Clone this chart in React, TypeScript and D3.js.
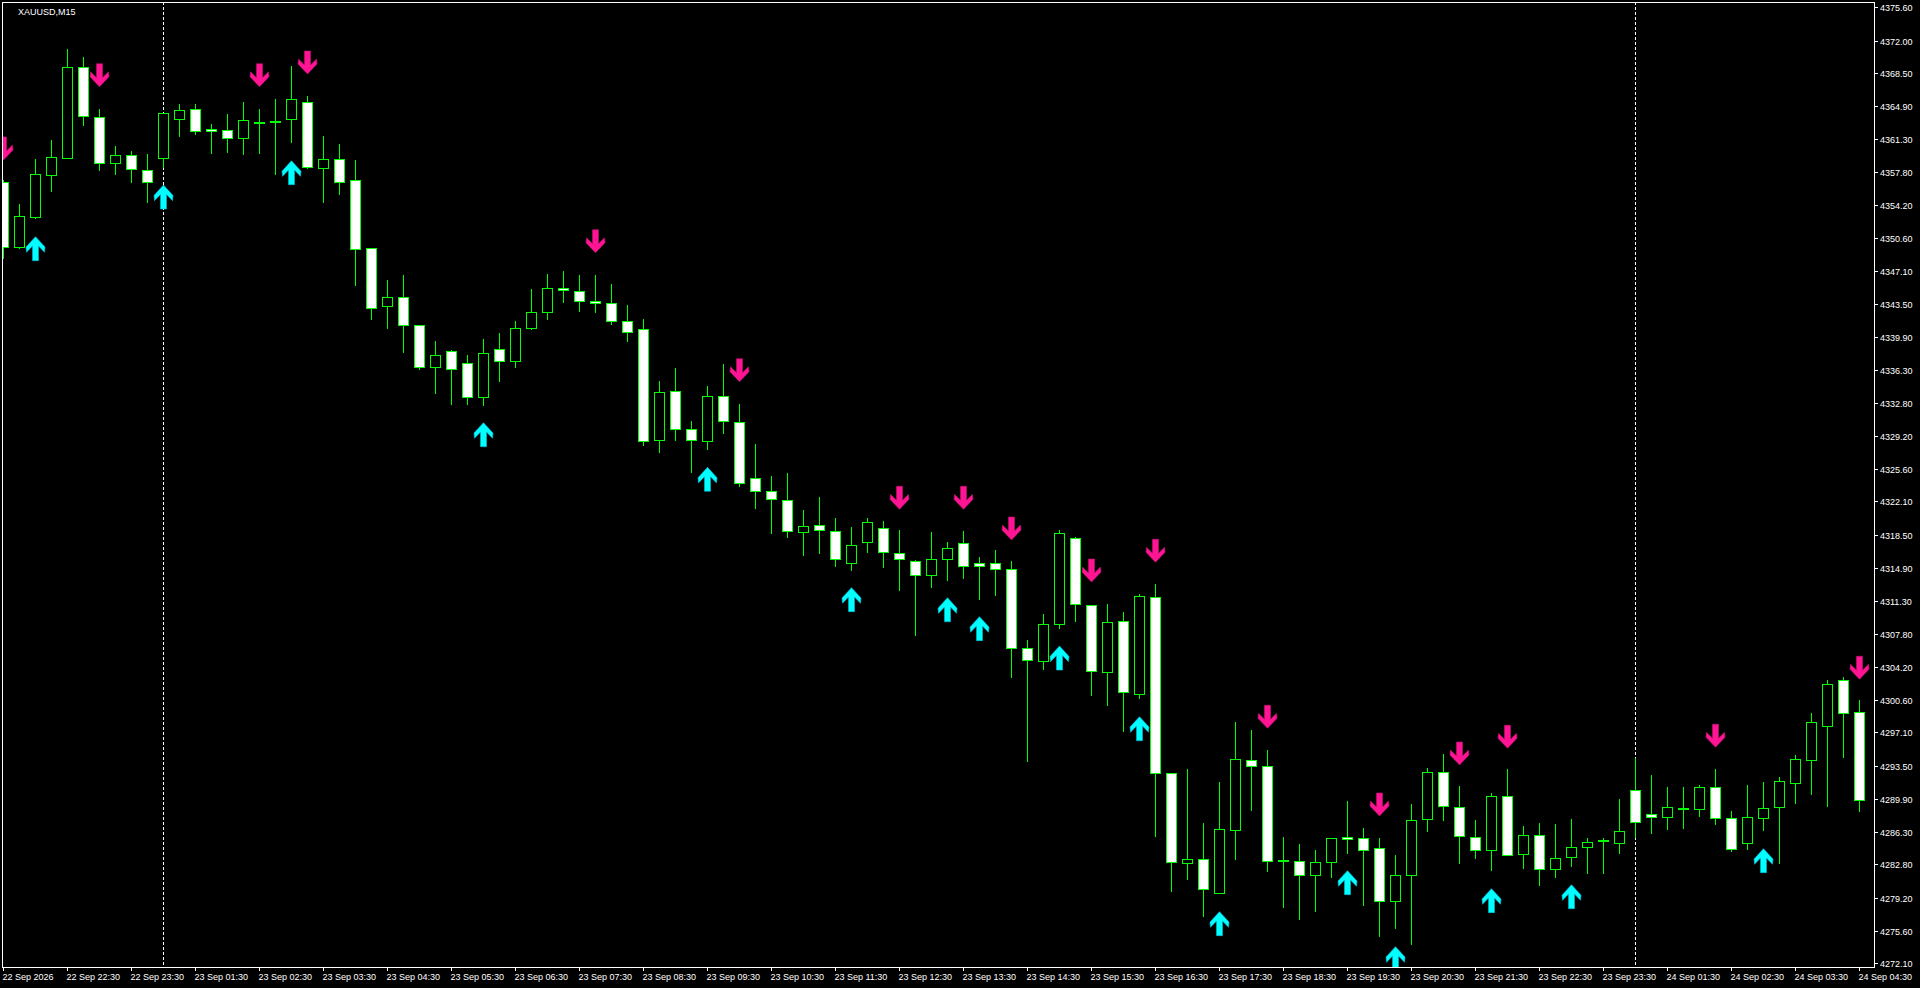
import React from 'react';
import * as d3 from 'd3';

const symbolLabel = 'XAUUSD,M15';

const opens = [
  4356.65, 4349.62, 4352.93, 4357.48, 4359.25, 4369.10, 4363.69, 4358.71, 4359.58, 4357.95,
  4359.25, 4363.54, 4364.56, 4362.39, 4362.28, 4361.42, 4363.11, 4363.22, 4363.47, 4365.32,
  4358.17, 4359.14, 4356.87, 4349.51, 4343.29, 4344.20, 4341.17, 4336.63, 4338.36, 4337.06,
  4333.38, 4338.58, 4337.34, 4340.91, 4342.58, 4345.18, 4344.85, 4343.77, 4343.55, 4341.61,
  4340.74, 4328.72, 4334.03, 4329.91, 4328.62, 4333.49, 4330.67, 4324.61, 4323.20, 4322.23,
  4318.76, 4319.52, 4318.87, 4315.41, 4317.68, 4319.20, 4316.49, 4315.62, 4314.11, 4315.84,
  4317.57, 4315.41, 4315.41, 4314.76, 4306.21, 4304.80, 4308.80, 4318.11, 4310.93, 4303.61,
  4309.13, 4301.23, 4311.73, 4292.67, 4282.93, 4283.36, 4279.75, 4286.50, 4294.08, 4293.43,
  4283.21, 4283.21, 4281.63, 4283.04, 4285.74, 4285.64, 4284.55, 4278.82, 4281.63, 4287.69,
  4292.78, 4288.99, 4285.74, 4284.34, 4290.18, 4283.90, 4285.96, 4282.28, 4283.58, 4284.66,
  4285.31, 4285.09, 4290.83, 4288.27, 4287.97, 4288.81, 4288.78, 4291.19, 4287.80, 4285.09,
  4287.80, 4288.99, 4291.59, 4294.08, 4297.76, 4302.74, 4299.28,
];

const highs = [
  4356.90, 4354.31, 4359.18, 4361.23, 4371.09, 4370.22, 4364.59, 4360.58, 4360.04, 4359.72,
  4364.19, 4365.13, 4365.13, 4362.97, 4364.05, 4365.35, 4364.59, 4365.67, 4369.25, 4366.00,
  4361.63, 4360.80, 4359.07, 4349.54, 4346.08, 4346.62, 4341.17, 4339.47, 4338.47, 4337.96,
  4339.69, 4340.34, 4341.64, 4345.10, 4346.73, 4347.05, 4346.62, 4346.62, 4345.64, 4343.37,
  4341.85, 4335.14, 4336.55, 4330.81, 4334.60, 4336.98, 4332.65, 4328.32, 4324.86, 4325.18,
  4321.18, 4322.59, 4320.31, 4319.34, 4320.31, 4319.99, 4319.01, 4315.76, 4318.80, 4317.71,
  4318.90, 4316.09, 4316.81, 4315.62, 4307.07, 4309.89, 4318.98, 4318.22, 4310.93, 4310.97,
  4310.10, 4312.05, 4313.13, 4292.67, 4293.14, 4287.29, 4291.73, 4298.23, 4297.36, 4295.20,
  4285.78, 4285.02, 4284.37, 4285.64, 4289.67, 4286.75, 4285.67, 4283.83, 4289.35, 4293.21,
  4294.76, 4291.30, 4287.62, 4290.54, 4293.14, 4286.97, 4287.29, 4287.18, 4287.73, 4285.64,
  4285.67, 4289.86, 4294.30, 4292.49, 4291.19, 4291.19, 4291.41, 4293.14, 4288.56, 4291.41,
  4291.73, 4292.27, 4294.62, 4299.17, 4302.74, 4303.07, 4300.58,
];

const lows = [
  4348.43, 4349.54, 4352.82, 4355.75, 4359.25, 4362.89, 4358.02, 4357.59, 4356.72, 4354.55,
  4358.34, 4361.70, 4361.92, 4359.86, 4359.97, 4359.75, 4359.86, 4357.59, 4361.05, 4358.20,
  4354.55, 4355.39, 4345.54, 4341.85, 4340.91, 4338.31, 4336.47, 4333.88, 4332.69, 4332.69,
  4332.58, 4335.14, 4336.69, 4340.81, 4341.85, 4343.73, 4342.75, 4342.65, 4341.28, 4339.51,
  4328.25, 4327.49, 4328.72, 4325.32, 4327.81, 4329.48, 4323.81, 4321.43, 4318.72, 4318.29,
  4316.34, 4316.55, 4315.15, 4314.71, 4316.66, 4315.04, 4312.55, 4307.68, 4312.87, 4313.63,
  4313.85, 4311.57, 4312.01, 4303.13, 4294.04, 4304.00, 4308.44, 4309.19, 4301.18, 4300.10,
  4297.28, 4300.79, 4285.92, 4279.96, 4281.26, 4277.26, 4279.75, 4283.43, 4288.73, 4282.13,
  4278.23, 4276.93, 4277.80, 4281.48, 4284.08, 4278.45, 4275.09, 4275.96, 4274.23, 4286.46,
  4287.58, 4282.99, 4283.54, 4282.24, 4283.80, 4282.45, 4280.61, 4281.48, 4282.67, 4281.91,
  4281.85, 4284.08, 4285.81, 4286.18, 4286.67, 4286.78, 4288.08, 4287.22, 4284.29, 4284.51,
  4286.56, 4282.99, 4289.49, 4290.46, 4289.16, 4294.47, 4288.62,
];

const closes = [
  4349.62, 4352.97, 4357.52, 4359.36, 4369.10, 4363.80, 4358.71, 4359.58, 4358.06, 4356.65,
  4364.12, 4364.45, 4362.18, 4362.18, 4361.42, 4363.37, 4363.11, 4363.22, 4365.64, 4358.28,
  4359.14, 4356.72, 4349.40, 4343.01, 4344.20, 4341.17, 4336.63, 4337.93, 4336.47, 4333.38,
  4338.14, 4337.34, 4340.85, 4342.58, 4345.18, 4344.96, 4343.77, 4343.55, 4341.61, 4340.42,
  4328.62, 4333.92, 4329.91, 4328.72, 4333.49, 4330.78, 4324.07, 4323.20, 4322.34, 4318.87,
  4319.41, 4318.98, 4315.84, 4317.36, 4319.85, 4316.60, 4315.84, 4314.11, 4315.84, 4317.03,
  4315.08, 4315.08, 4314.76, 4306.21, 4304.91, 4308.87, 4318.66, 4310.97, 4303.72, 4309.02,
  4301.44, 4311.83, 4292.67, 4283.04, 4283.36, 4280.18, 4286.61, 4294.19, 4293.43, 4283.15,
  4283.21, 4281.63, 4283.04, 4285.64, 4285.53, 4284.34, 4278.88, 4281.63, 4287.58, 4292.78,
  4289.10, 4285.85, 4284.34, 4290.18, 4283.80, 4285.96, 4282.28, 4283.47, 4284.66, 4285.20,
  4285.31, 4286.39, 4287.43, 4287.97, 4288.99, 4288.81, 4291.19, 4287.80, 4284.51, 4287.91,
  4288.88, 4291.81, 4294.19, 4298.19, 4302.31, 4299.17, 4289.75,
];

// sell (down, pink) arrow signals: bar index and arrow tip price
const sellBars = [0, 6, 16, 19, 37, 46, 56, 60, 63, 68, 72, 79, 86, 91, 94, 107, 116];
const sellPrices = [
  4359.07, 4367.00, 4367.00, 4368.38, 4349.03, 4335.07, 4321.25, 4321.25, 4317.93,
  4313.38, 4315.52, 4297.54, 4288.05, 4293.57, 4295.38, 4295.49, 4302.85,
];
// buy (up, cyan) arrow signals
const buyBars = [2, 10, 18, 30, 44, 53, 59, 61, 66, 71, 76, 84, 87, 93, 98, 110];
const buyPrices = [
  4350.77, 4356.36, 4358.99, 4330.63, 4325.80, 4312.77, 4311.68, 4309.63, 4306.45,
  4298.80, 4277.69, 4282.13, 4273.90, 4280.18, 4280.61, 4284.51,
];

const yTickLabels = [
  '4375.60', '4372.00', '4368.50', '4364.90', '4361.30', '4357.80', '4354.20', '4350.60',
  '4347.10', '4343.50', '4339.90', '4336.30', '4332.80', '4329.20', '4325.60', '4322.10',
  '4318.50', '4314.90', '4311.30', '4307.80', '4304.20', '4300.60', '4297.10', '4293.50',
  '4289.90', '4286.30', '4282.80', '4279.20', '4275.60', '4272.10',
];

const xTickLabels = [
  '22 Sep 2026', '22 Sep 22:30', '22 Sep 23:30', '23 Sep 01:30', '23 Sep 02:30',
  '23 Sep 03:30', '23 Sep 04:30', '23 Sep 05:30', '23 Sep 06:30', '23 Sep 07:30',
  '23 Sep 08:30', '23 Sep 09:30', '23 Sep 10:30', '23 Sep 11:30', '23 Sep 12:30',
  '23 Sep 13:30', '23 Sep 14:30', '23 Sep 15:30', '23 Sep 16:30', '23 Sep 17:30',
  '23 Sep 18:30', '23 Sep 19:30', '23 Sep 20:30', '23 Sep 21:30', '23 Sep 22:30',
  '23 Sep 23:30', '24 Sep 01:30', '24 Sep 02:30', '24 Sep 03:30', '24 Sep 04:30',
];
const xTickBarStep = 4;
const daySeparatorBars = [10, 102];

const W = 1920;
const H = 988;
const FRAME = { left: 2, top: 2, right: 1874, bottom: 967 };
const GREEN = '#00FF00';
const PINK = '#FF1493';
const CYAN = '#00FFFF';
const FONT = '"Liberation Sans", Arial, sans-serif';

// arrow polygon (down arrow), origin at top-centre, height 23
const downArrow = [
  [-3, 0], [3, 0], [3, 14], [9, 8], [9.5, 13], [0, 23], [-9.5, 13], [-9, 8], [-3, 14],
];

export default function App() {
  const n = opens.length;
  const x = d3.scaleLinear().domain([0, n - 1]).range([3, 3 + 16 * (n - 1)]);
  const y = d3
    .scaleLinear()
    .domain([+yTickLabels[0], +yTickLabels[yTickLabels.length - 1]])
    .range([7.3, 963.3]);

  const line = d3.line();

  const candles = opens.map((o, i) => {
    const c = closes[i];
    const cx = Math.round(x(i));
    const yTop = Math.round(y(Math.max(o, c)));
    const yBot = Math.round(y(Math.min(o, c)));
    const yH = Math.round(y(highs[i]));
    const yL = Math.round(y(lows[i]));
    const bull = c > o;
    return (
      <g key={i}>
        <line x1={cx + 0.5} x2={cx + 0.5} y1={yH} y2={yL + 1} stroke={GREEN} strokeWidth={1} />
        {yBot - yTop < 1 ? (
          <rect x={cx - 5} y={yTop - 1} width={11} height={2} fill={GREEN} />
        ) : (
          <rect
            x={cx - 4.5}
            y={yTop + 0.5}
            width={10}
            height={yBot - yTop}
            fill={bull ? '#000000' : '#FFFFFF'}
            stroke={GREEN}
            strokeWidth={1}
          />
        )}
      </g>
    );
  });

  const sellArrows = sellBars.map((b, k) => {
    const cx = x(b) + 0.5;
    const tip = y(sellPrices[k]);
    const pts = downArrow.map(([dx, dy]) => [cx + dx, tip - 23 + dy] as [number, number]);
    return <path key={'s' + k} d={line(pts) + 'Z'} fill={PINK} stroke="#C0106E" strokeWidth={0.6} />;
  });

  const buyArrows = buyBars.map((b, k) => {
    const cx = x(b) + 0.5;
    const tip = y(buyPrices[k]);
    const pts = downArrow.map(([dx, dy]) => [cx + dx, tip + 24 - dy * (24 / 23)] as [number, number]);
    return <path key={'b' + k} d={line(pts) + 'Z'} fill={CYAN} stroke="#00B8D8" strokeWidth={0.6} />;
  });

  return (
    <svg
      width={W}
      height={H}
      style={{ position: 'fixed', left: 0, top: 0, display: 'block', background: '#000' }}
    >
      <rect x={0} y={0} width={W} height={H} fill="#000" />
      <defs>
        <clipPath id="plot">
          <rect
            x={FRAME.left + 0.5}
            y={FRAME.top + 0.5}
            width={FRAME.right - FRAME.left}
            height={FRAME.bottom - FRAME.top}
          />
        </clipPath>
      </defs>

      <g clipPath="url(#plot)">
        {daySeparatorBars.map((b) => (
          <line
            key={'sep' + b}
            x1={Math.round(x(b)) + 0.5}
            x2={Math.round(x(b)) + 0.5}
            y1={FRAME.top}
            y2={FRAME.bottom}
            stroke="#FFFFFF"
            strokeWidth={1}
            strokeDasharray="3 2"
          />
        ))}
        <g shapeRendering="crispEdges">{candles}</g>
        {sellArrows}
        {buyArrows}
      </g>

      {/* frame */}
      <rect
        x={FRAME.left + 0.5}
        y={FRAME.top + 0.5}
        width={FRAME.right - FRAME.left}
        height={FRAME.bottom - FRAME.top}
        fill="none"
        stroke="#FFFFFF"
        strokeWidth={1}
        shapeRendering="crispEdges"
      />

      {/* y axis */}
      {yTickLabels.map((t) => {
        const ty = Math.round(y(+t)) + 0.5;
        return (
          <g key={'y' + t}>
            <line x1={FRAME.right} x2={FRAME.right + 4} y1={ty} y2={ty} stroke="#FFFFFF" shapeRendering="crispEdges" />
            <text x={1880} y={ty + 3.3} fill="#FFFFFF" fontFamily={FONT} fontSize={9}>
              {t}
            </text>
          </g>
        );
      })}

      {/* x axis */}
      {xTickLabels.map((t, k) => {
        const tx = Math.round(x(k * xTickBarStep)) + 0.5;
        return (
          <g key={'x' + k}>
            <line x1={tx} x2={tx} y1={FRAME.bottom} y2={FRAME.bottom + 4} stroke="#FFFFFF" shapeRendering="crispEdges" />
            <text x={tx - 1} y={980} fill="#FFFFFF" fontFamily={FONT} fontSize={9}>
              {t}
            </text>
          </g>
        );
      })}

      <text x={18} y={14.5} fill="#FFFFFF" fontFamily={FONT} fontSize={9}>
        {symbolLabel}
      </text>
    </svg>
  );
}
